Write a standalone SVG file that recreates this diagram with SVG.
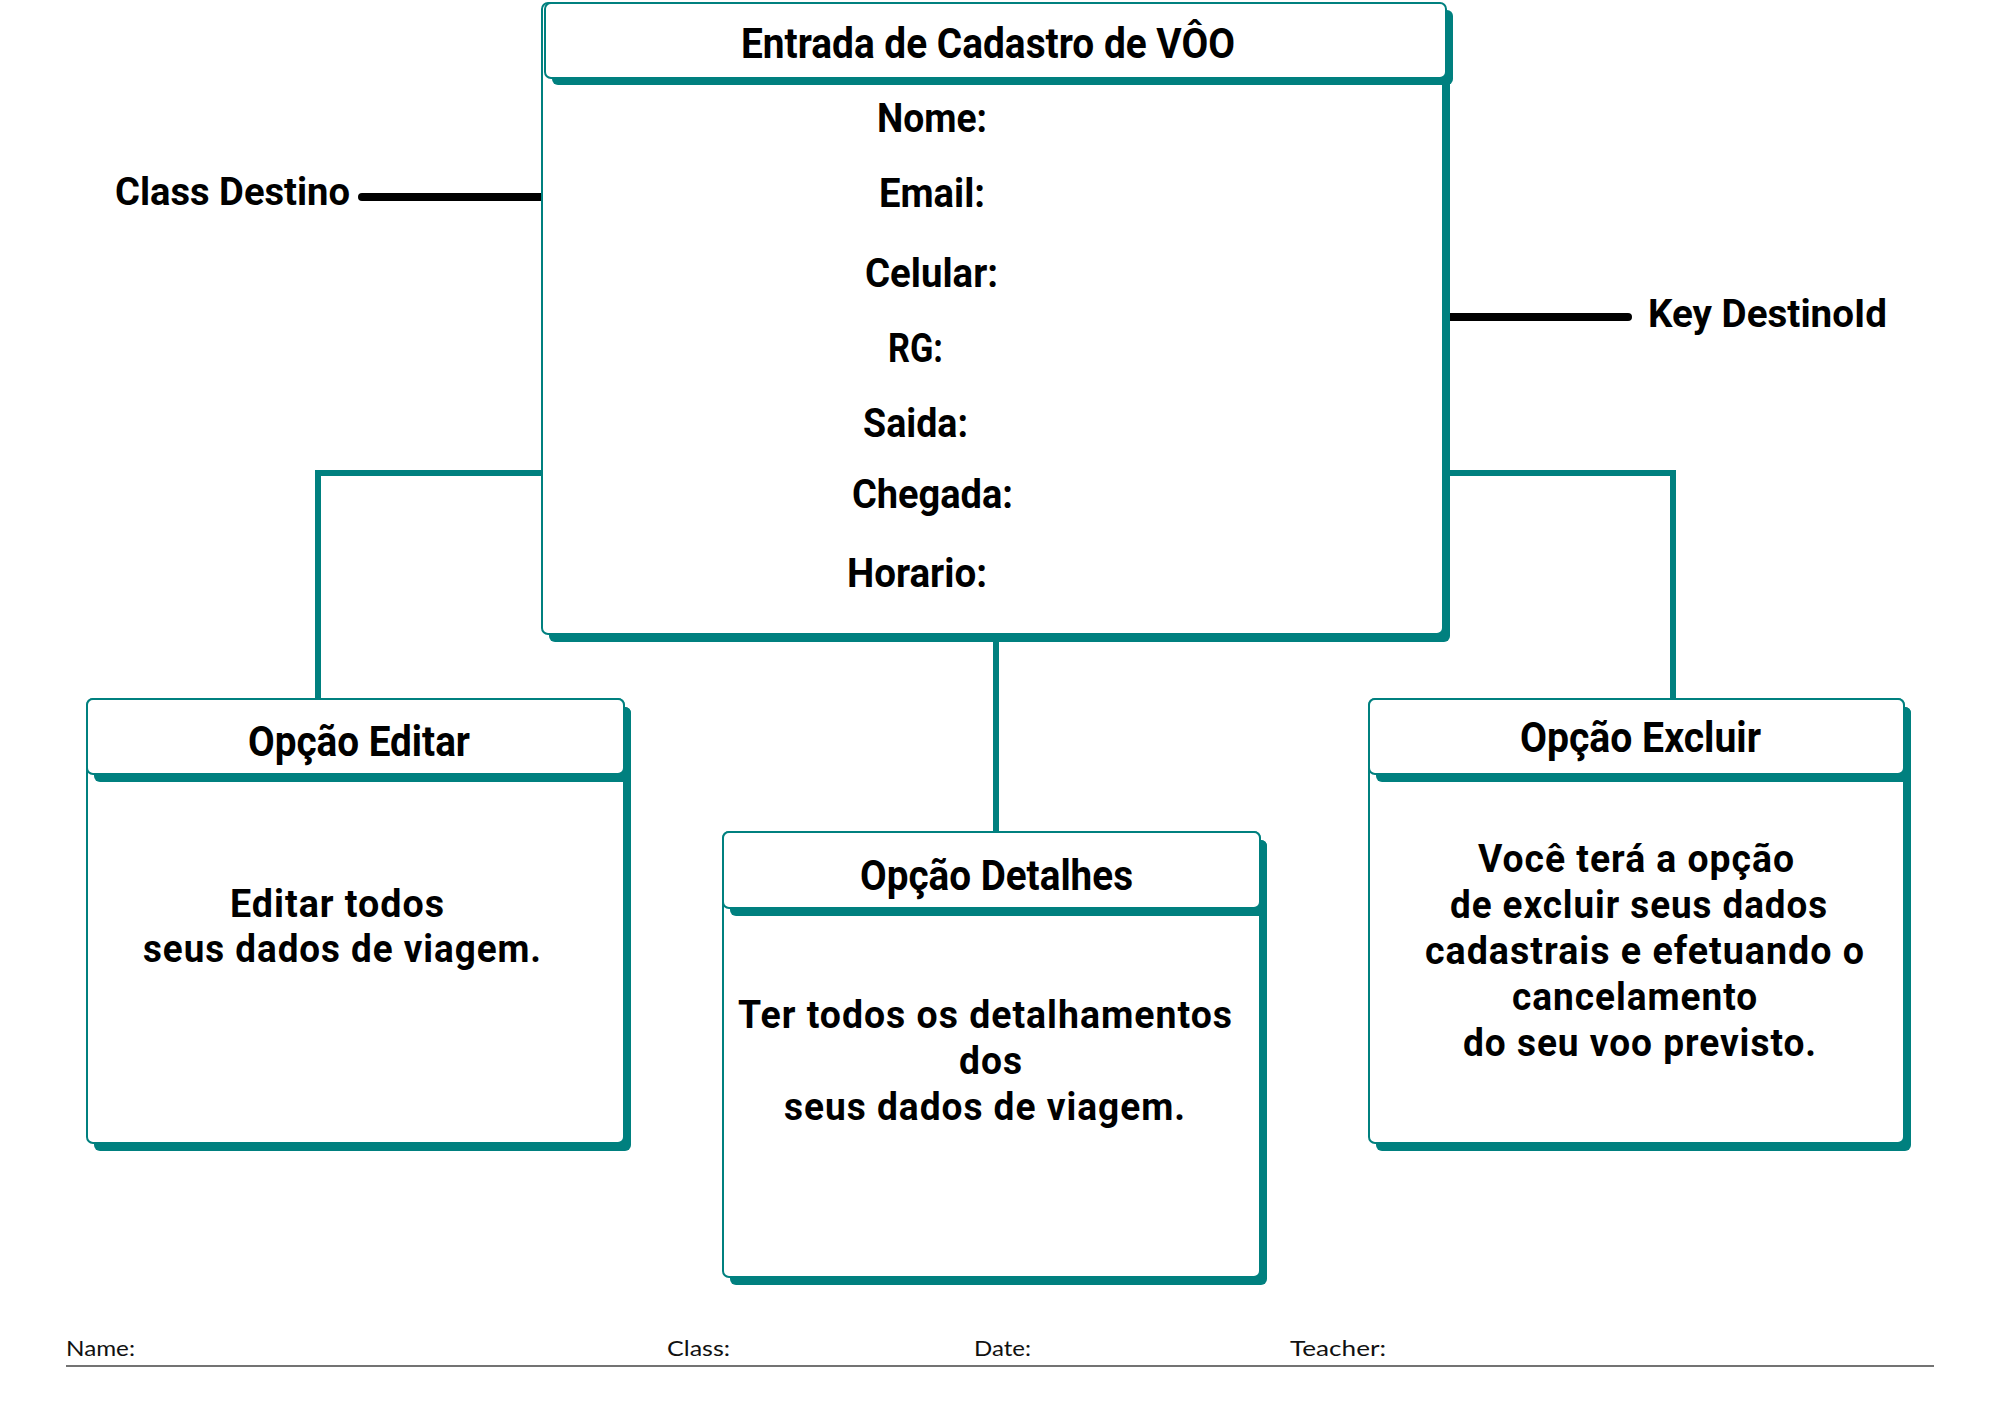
<svg xmlns="http://www.w3.org/2000/svg" width="2000" height="1414" viewBox="0 0 2000 1414">
<style>
.bg{fill:#ffffff}
.sh{fill:#00807f}
.box{fill:#ffffff;stroke:#00807f;stroke-width:2}
.t{font-family:Roboto,"Liberation Sans",sans-serif;font-weight:700;fill:#000000;text-anchor:middle}
.ttl{font-size:42px}
.fld{font-size:40px}
.body{font-size:38px;letter-spacing:1px}
.lbl{font-family:Roboto,"Liberation Sans",sans-serif;font-weight:700;font-size:38px;fill:#000}
.conn{fill:none;stroke:#00807f;stroke-width:6}
.blk{fill:none;stroke:#000000;stroke-width:8;stroke-linecap:round}
.ft{font-family:Lato,"Liberation Sans",sans-serif;font-size:21px;fill:#111}
</style>
<rect class="bg" x="0" y="0" width="2000" height="1414"/>
<g id="connectors">
<polyline class="conn" points="542,473 318,473 318,699"/>
<polyline class="conn" points="1450,473 1673,473 1673,699"/>
<line class="conn" x1="996" y1="642" x2="996" y2="832"/>
<line class="blk" x1="362" y1="197" x2="543" y2="197"/>
<line class="blk" x1="1447" y1="317" x2="1628" y2="317"/>
</g>
<g id="main">
<rect class="sh" x="549" y="11" width="901" height="631" rx="6"/>
<rect class="box" x="542" y="3" width="901" height="631" rx="6"/>
<rect class="sh" x="552" y="10" width="901" height="75" rx="6"/>
<rect class="box" x="545" y="3" width="901" height="75" rx="6"/>
<text class="t ttl" x="988" y="58" textLength="494" lengthAdjust="spacingAndGlyphs">Entrada de Cadastro de VÔO</text>
<text class="t fld" x="932" y="132" textLength="110" lengthAdjust="spacingAndGlyphs">Nome:</text>
<text class="t fld" x="932" y="207" textLength="106" lengthAdjust="spacingAndGlyphs">Email:</text>
<text class="t fld" x="931.5" y="287" textLength="133" lengthAdjust="spacingAndGlyphs">Celular:</text>
<text class="t fld" x="915.5" y="362" textLength="55" lengthAdjust="spacingAndGlyphs">RG:</text>
<text class="t fld" x="915.5" y="437" textLength="105" lengthAdjust="spacingAndGlyphs">Saida:</text>
<text class="t fld" x="932.5" y="508" textLength="161" lengthAdjust="spacingAndGlyphs">Chegada:</text>
<text class="t fld" x="917" y="587" textLength="140" lengthAdjust="spacingAndGlyphs">Horario:</text>
</g>
<g id="class-destino">
<text class="lbl" x="115" y="205" textLength="235" lengthAdjust="spacingAndGlyphs">Class Destino</text>
</g>
<g id="key-destinoid">
<text class="lbl" x="1648" y="327" textLength="239" lengthAdjust="spacingAndGlyphs">Key DestinoId</text>
</g>
<g id="editar">
<rect class="sh" x="94" y="707" width="537" height="444" rx="6"/>
<rect class="box" x="87" y="699" width="537" height="444" rx="6"/>
<rect class="sh" x="94" y="707" width="537" height="75" rx="6"/>
<rect class="box" x="87" y="699" width="537" height="75" rx="6"/>
<text class="t ttl" x="359" y="756" textLength="222" lengthAdjust="spacingAndGlyphs">Opção Editar</text>
<text class="t body" x="337.5" y="917" textLength="215" lengthAdjust="spacingAndGlyphs">Editar todos</text>
<text class="t body" x="342.5" y="962" textLength="399" lengthAdjust="spacingAndGlyphs">seus dados de viagem.</text>
</g>
<g id="detalhes">
<rect class="sh" x="730" y="840" width="537" height="445" rx="6"/>
<rect class="box" x="723" y="832" width="537" height="445" rx="6"/>
<rect class="sh" x="730" y="840" width="537" height="76" rx="6"/>
<rect class="box" x="723" y="832" width="537" height="76" rx="6"/>
<text class="t ttl" x="996.5" y="890" textLength="273" lengthAdjust="spacingAndGlyphs">Opção Detalhes</text>
<text class="t body" x="985.5" y="1028" textLength="495" lengthAdjust="spacingAndGlyphs">Ter todos os detalhamentos</text>
<text class="t body" x="991" y="1074" textLength="64" lengthAdjust="spacingAndGlyphs">dos</text>
<text class="t body" x="985" y="1120" textLength="402" lengthAdjust="spacingAndGlyphs">seus dados de viagem.</text>
</g>
<g id="excluir">
<rect class="sh" x="1376" y="707" width="535" height="444" rx="6"/>
<rect class="box" x="1369" y="699" width="535" height="444" rx="6"/>
<rect class="sh" x="1376" y="707" width="535" height="75" rx="6"/>
<rect class="box" x="1369" y="699" width="535" height="75" rx="6"/>
<text class="t ttl" x="1640.5" y="752" textLength="241" lengthAdjust="spacingAndGlyphs">Opção Excluir</text>
<text class="t body" x="1636.5" y="872" textLength="317" lengthAdjust="spacingAndGlyphs">Você terá a opção</text>
<text class="t body" x="1639" y="918" textLength="378" lengthAdjust="spacingAndGlyphs">de excluir seus dados</text>
<text class="t body" x="1645" y="964" textLength="440" lengthAdjust="spacingAndGlyphs">cadastrais e efetuando o</text>
<text class="t body" x="1635" y="1010" textLength="246" lengthAdjust="spacingAndGlyphs">cancelamento</text>
<text class="t body" x="1640" y="1056" textLength="354" lengthAdjust="spacingAndGlyphs">do seu voo previsto.</text>
</g>
<g id="footer">
<text class="ft" x="66" y="1356" textLength="69" lengthAdjust="spacingAndGlyphs">Name:</text>
<text class="ft" x="667" y="1356" textLength="63" lengthAdjust="spacingAndGlyphs">Class:</text>
<text class="ft" x="974" y="1356" textLength="57" lengthAdjust="spacingAndGlyphs">Date:</text>
<text class="ft" x="1290" y="1356" textLength="96" lengthAdjust="spacingAndGlyphs">Teacher:</text>
<line x1="66" y1="1366" x2="1934" y2="1366" stroke="#444" stroke-width="1.5"/>
</g>
</svg>
